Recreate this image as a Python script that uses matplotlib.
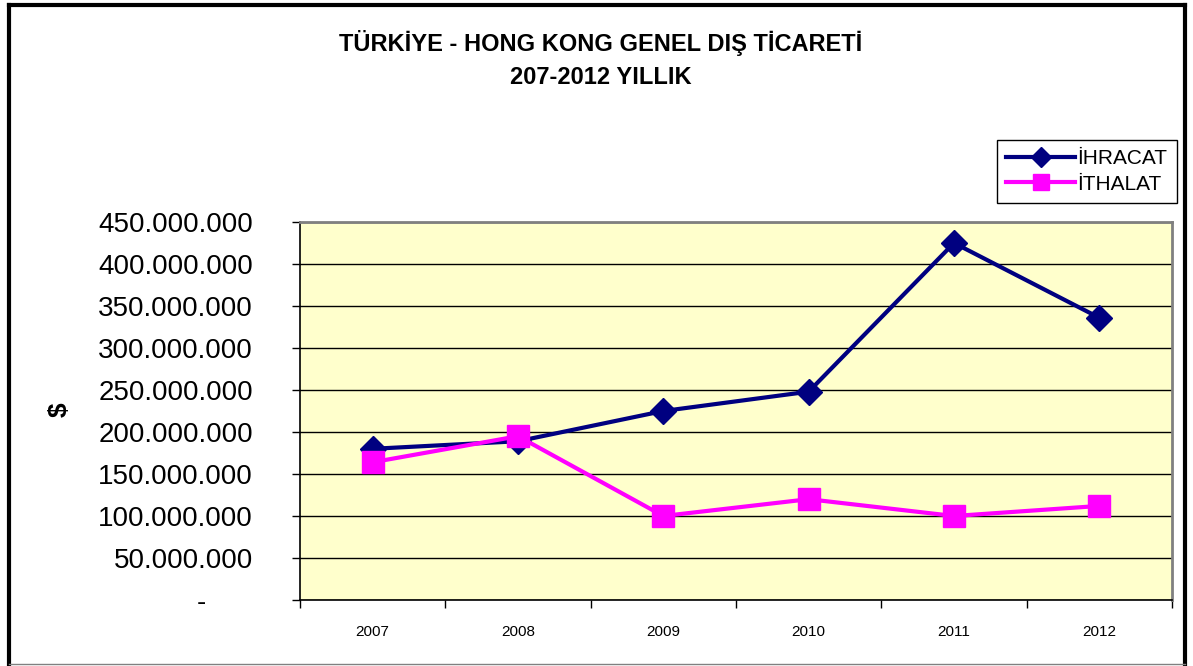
import matplotlib
matplotlib.use("Agg")
import matplotlib.pyplot as plt
from matplotlib.lines import Line2D
from matplotlib.ticker import FixedLocator, FuncFormatter

plt.rcParams['font.family'] = ['Liberation Sans', 'DejaVu Sans']

years = ["2007", "2008", "2009", "2010", "2011", "2012"]
ihracat = [180e6, 189e6, 225e6, 248e6, 425e6, 336e6]
ithalat = [164e6, 195e6, 100e6, 120e6, 100e6, 112e6]

W, H = 1193, 666
fig = plt.figure(figsize=(W / 100, H / 100), dpi=100)

# plot area in pixel coords
left, top, right, bottom = 300, 222, 1172, 600
ax = fig.add_axes([left / W, 1 - bottom / H, (right - left) / W, (bottom - top) / H])
ax.set_facecolor("#FFFFCC")

x = list(range(len(years)))
ax.plot(x, ihracat, color="#000080", lw=3, marker="D", markersize=13,
        label="İHRACAT", zorder=3)
ax.plot(x, ithalat, color="#FF00FF", lw=3, marker="s", markersize=16,
        label="İTHALAT", zorder=3)

ax.set_xlim(-0.5, len(years) - 0.5)
ax.set_ylim(0, 450e6)

yt = [i * 50e6 for i in range(10)]
ax.set_yticks(yt)
def fmt(v, pos):
    if v == 0:
        return "-      "
    return f"{int(v):,}".replace(",", ".")
ax.yaxis.set_major_formatter(FuncFormatter(fmt))
ax.tick_params(axis="y", labelsize=20, length=6, width=1, pad=28, direction="out")
ax.grid(axis="y", color="black", lw=1)
ax.set_axisbelow(True)

# category boundaries as major ticks, labels at centers
ax.xaxis.set_major_locator(FixedLocator([i - 0.5 for i in range(len(years) + 1)]))
ax.xaxis.set_major_formatter(FuncFormatter(lambda v, p: ""))
ax.xaxis.set_minor_locator(FixedLocator(x))
ax.set_xticks(x, years, minor=True)
ax.tick_params(axis="x", which="major", length=6, width=1, direction="out")
ax.tick_params(axis="x", which="minor", length=0, labelsize=11, pad=18)

for s in ["left", "bottom"]:
    ax.spines[s].set_color("black")
    ax.spines[s].set_linewidth(1.2)
for s in ["top", "right"]:
    ax.spines[s].set_color("#808080")
    ax.spines[s].set_linewidth(2)

ax.set_ylabel("$", fontsize=19, fontweight="bold", labelpad=0)
ax.yaxis.set_label_coords((72 - left) / (right - left), 1 - (410 - top) / (bottom - top))

fig.text(601 / W, 1 - 43 / H, "TÜRKİYE - HONG KONG GENEL DIŞ TİCARETİ",
         ha="center", va="center", fontsize=17, fontweight="bold")
fig.text(601 / W, 1 - 78 / H, "207-2012 YILLIK",
         ha="center", va="center", fontsize=17, fontweight="bold")

leg = fig.legend(loc="upper left", bbox_to_anchor=(997 / W, 1 - 140 / H),
                 fontsize=15, frameon=True, fancybox=False, framealpha=1,
                 edgecolor="black", handlelength=3.3, handletextpad=0.1,
                 borderpad=0.45, labelspacing=0.3, borderaxespad=0,
                 markerscale=0.75)
leg.get_frame().set_linewidth(1)

# outer chart border
def px_line(x0, y0, x1, y1, color, lw):
    fig.add_artist(Line2D([x0 / W, x1 / W], [1 - y0 / H, 1 - y1 / H],
                          transform=fig.transFigure, color=color, lw=lw,
                          solid_capstyle="projecting"))

px_line(9, 5, 1185, 5, "black", 3)
px_line(9, 5, 9, 664, "black", 3)
px_line(1185, 5, 1185, 664, "black", 3)
px_line(9, 664, 1185, 664, "#808080", 1)

fig.savefig("out.png", dpi=100)
